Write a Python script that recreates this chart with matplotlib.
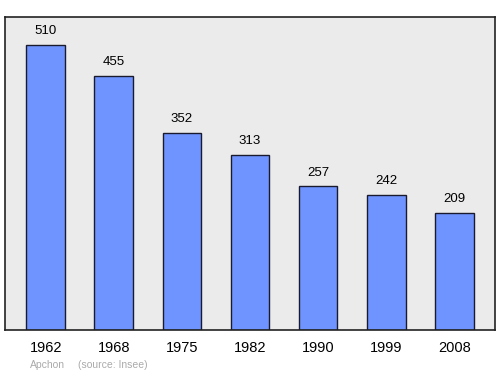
import matplotlib
matplotlib.use("Agg")
import matplotlib.pyplot as plt

plt.rcParams['font.family'] = ['Liberation Sans', 'DejaVu Sans']

annees = ['1962', '1968', '1975', '1982', '1990', '1999', '2008']
population = [510, 455, 352, 313, 257, 242, 209]

fig = plt.figure(figsize=(5, 3.74), dpi=100)
ax = fig.add_axes([0.01, 1 - 330 / 374, 0.98, (330 - 17) / 374])
ax.set_facecolor('#ebebeb')

x = range(len(annees))
ax.bar(x, population, width=0.57, color='#7094ff', edgecolor='#1a1a2e', linewidth=1)

# valeurs au-dessus des barres
for i, v in zip(x, population):
    ax.text(i, v + 14, str(v), ha='center', va='bottom', fontsize=9.5)

ax.set_xlim(-0.6, 6.6)
ax.set_ylim(0, 560)
ax.set_yticks([])
ax.set_xticks(list(x))
ax.set_xticklabels(annees, fontsize=10.5)
ax.tick_params(axis='x', length=0, pad=8)
for s in ax.spines.values():
    s.set_linewidth(1.2)
    s.set_color('#222222')

fig.text(30 / 500, 1 - 365 / 374, 'Apchon', fontsize=7.5, color='#aaaaaa', va='center')
fig.text(78 / 500, 1 - 365 / 374, '(source: Insee)', fontsize=7.5, color='#aaaaaa', va='center')

fig.savefig('out.png', dpi=100)
